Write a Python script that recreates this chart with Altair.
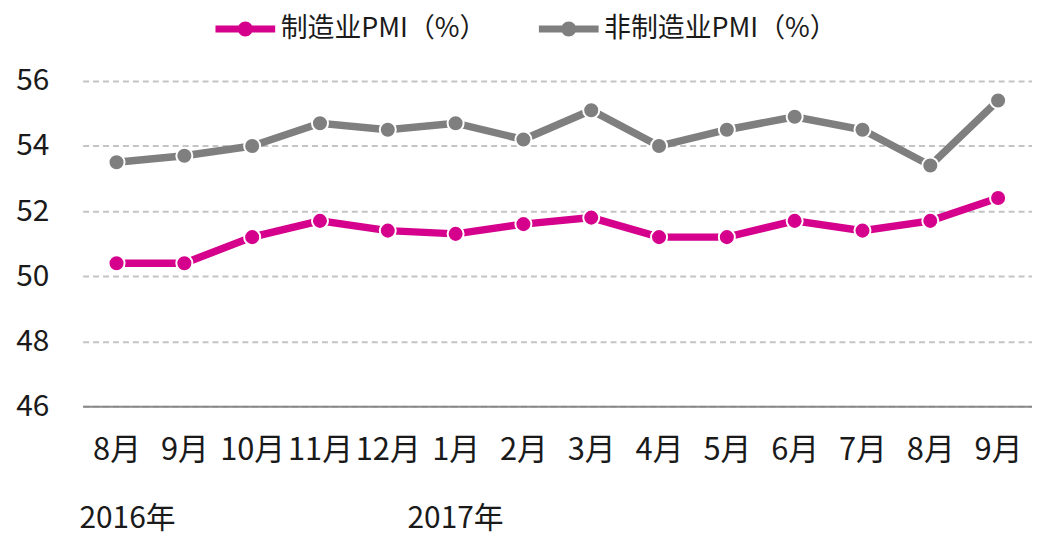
import altair as alt
import pandas as pd

keys = ["2016-08", "2016-09", "2016-10", "2016-11", "2016-12", "2017-01", "2017-02",
        "2017-03", "2017-04", "2017-05", "2017-06", "2017-07", "2017-08", "2017-09"]
series_names = ["制造业PMI（%）", "非制造业PMI（%）"]
manufacturing = [50.4, 50.4, 51.2, 51.7, 51.4, 51.3, 51.6, 51.8, 51.2, 51.2, 51.7, 51.4, 51.7, 52.4]
non_manufacturing = [53.5, 53.7, 54.0, 54.7, 54.5, 54.7, 54.2, 55.1, 54.0, 54.5, 54.9, 54.5, 53.4, 55.4]
year_labels = ["2016年", "2017年"]
year_anchor = ["2016-08", "2017-01"]
y_ticks = [46, 48, 50, 52, 54, 56]
colors = ["#D5008C", "#7F7F7F"]

rows = []
for name, vals in zip(series_names, [manufacturing, non_manufacturing]):
    for k, v in zip(keys, vals):
        rows.append({"key": k, "series": name, "value": v})
df = pd.DataFrame(rows)
years_df = pd.DataFrame({"key": year_anchor, "label": year_labels})

FONT = "Noto Sans CJK SC"

x_enc = alt.X(
    "key:O",
    sort=keys,
    scale=alt.Scale(type="point", padding=0.5),
    axis=alt.Axis(
        title=None,
        labelExpr="toNumber(split(datum.value, '-')[1]) + '月'",
        labelAngle=0,
        labelFontSize=31,
        labelColor="#1a1a1a",
        labelPadding=29,
        ticks=False,
        domain=True,
        domainColor="#898989",
        domainWidth=2,
        grid=False,
    ),
)
y_enc = alt.Y(
    "value:Q",
    scale=alt.Scale(domain=[46, 56], nice=False, zero=False),
    axis=alt.Axis(
        title=None,
        values=y_ticks,
        labelFontSize=30,
        labelColor="#1a1a1a",
        labelPadding=34,
        ticks=False,
        domain=False,
        grid=True,
        gridColor="#C4C4C4",
        gridDash=[6, 4],
        gridWidth=2,
    ),
)
color_enc = alt.Color(
    "series:N",
    scale=alt.Scale(domain=series_names, range=colors),
    sort=series_names,
    legend=alt.Legend(
        title=None,
        orient="none",
        direction="horizontal",
        legendX=150,
        legendY=-66,
        symbolType="M-3,-0.35 L3,-0.35 L3,0.35 L-3,0.35 Z M0.75,0 A0.75,0.75 0 1 1 -0.75,0 A0.75,0.75 0 1 1 0.75,0 Z",
        symbolSize=400,
        symbolStrokeWidth=0,
        labelFontSize=27,
        labelColor="#1a1a1a",
        labelOffset=22,
        columnPadding=52,
        labelLimit=400,
    ),
)

base = alt.Chart(df)
lines = base.mark_line(strokeWidth=7.5).encode(x=x_enc, y=y_enc, color=color_enc)
points = base.mark_point(filled=True, size=260, stroke="white", strokeWidth=2, opacity=1).encode(
    x=x_enc, y=y_enc, fill=alt.Fill("series:N", scale=alt.Scale(domain=series_names, range=colors), legend=None)
)

year_text_a = alt.Chart(years_df).transform_filter(alt.datum.label == year_labels[0]).mark_text(
    fontSize=30, font=FONT, color="#1a1a1a", baseline="middle", dx=11
).encode(x=alt.X("key:O", sort=keys), y=alt.value(440), text="label:N")
year_text_b = alt.Chart(years_df).transform_filter(alt.datum.label == year_labels[1]).mark_text(
    fontSize=30, font=FONT, color="#1a1a1a", baseline="middle"
).encode(x=alt.X("key:O", sort=keys), y=alt.value(440), text="label:N")

chart = alt.layer(lines, points, year_text_a, year_text_b).properties(
    width=954,
    height=327,
    autosize=alt.AutoSizeParams(type="none"),
    padding={"left": 75, "top": 72, "right": 0, "bottom": 127},
).configure(font=FONT).configure_view(stroke=None)

chart.save("out.html", embed_options={"renderer": "svg", "actions": False})
